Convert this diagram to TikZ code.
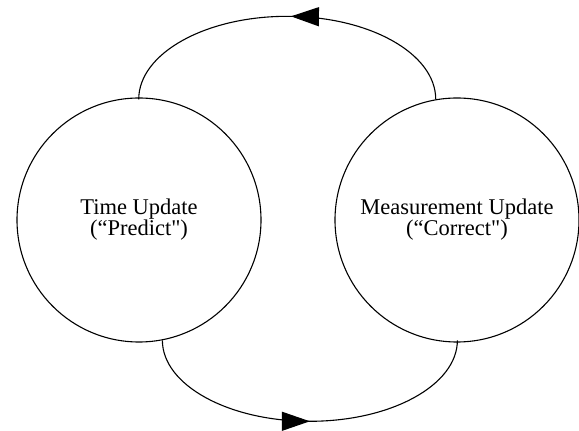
\documentclass[tikz,border=0pt]{standalone}
\usepackage{fontspec}
% straight closing quotes are kept as typed
\setmainfont{Liberation Serif}[Ligatures=TeXOff]
\usetikzlibrary{arrows.meta,decorations.markings}

\tikzset{
  phase/.style={circle, draw, line width=1.1pt, minimum size=244pt, inner sep=0pt,
    align=center, font=\fontsize{22.5}{21}\selectfont},
  flow/.style={line width=1.1pt, postaction={decorate},
    decoration={markings, mark=at position #1 with
      {\arrow{Triangle[length=28pt,width=19pt]}}}}
}

\begin{document}
\begin{tikzpicture}[x=1pt, y=1pt]
  \useasboundingbox (0,0) rectangle (579,431);

  % the two phases of the filter cycle
  \node[phase] (tu) at (139,211) {Time Update\\(“Predict")};
  \node[phase] (mu) at (457,211) {Measurement Update\\(“Correct")};

  % measurement update feeds back into the next time update
  \draw[flow=0.49] (mu.100) arc[start angle=0, end angle=180, x radius=148.5, y radius=83];

  % time update passes its prediction on to the measurement update
  \draw[flow=0.5] (tu.-79) arc[start angle=180, end angle=360, x radius=147.5, y radius=81];
\end{tikzpicture}
\end{document}
